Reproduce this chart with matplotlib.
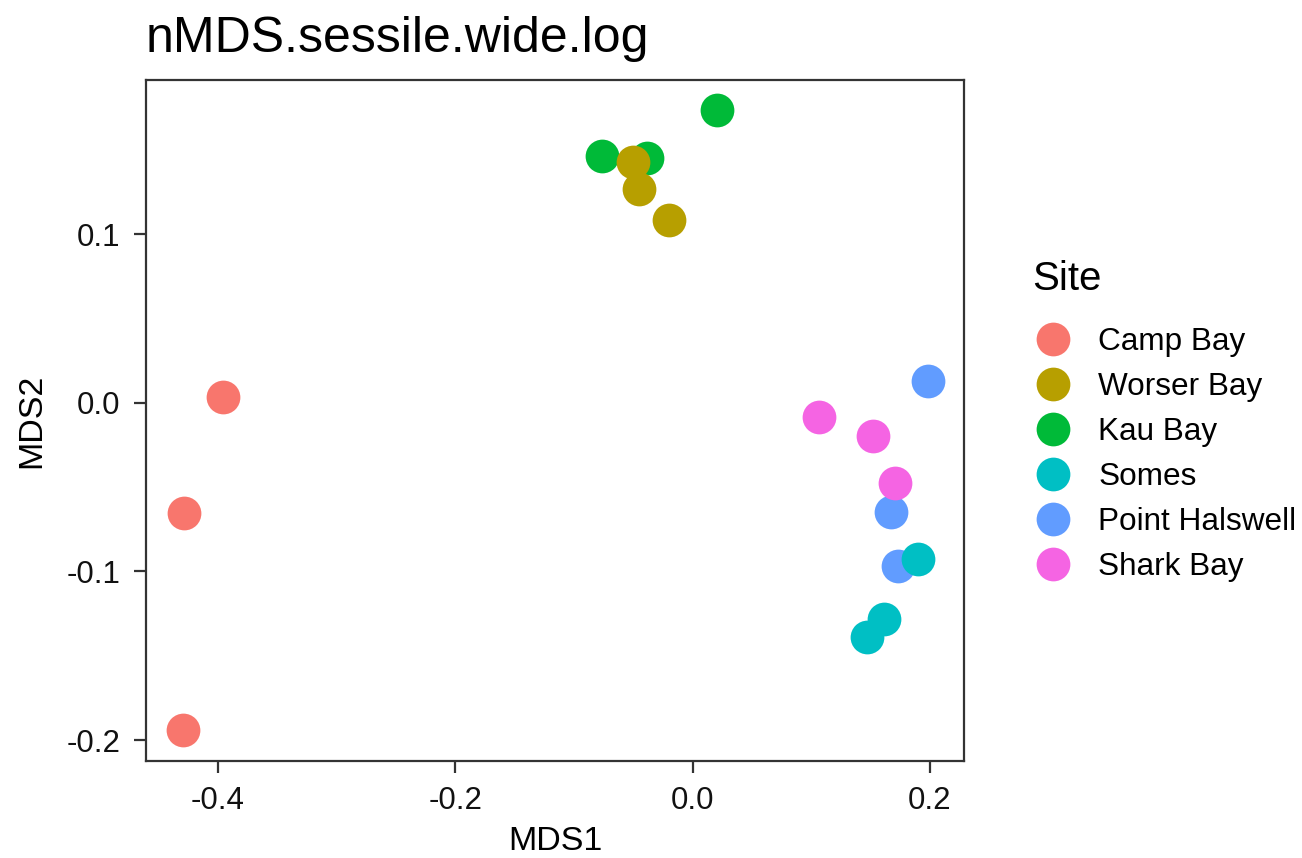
import matplotlib
matplotlib.use("Agg")
import matplotlib.pyplot as plt
from matplotlib.lines import Line2D

plt.rcParams['font.family'] = ['Liberation Sans', 'DejaVu Sans']

sites = ["Camp Bay", "Worser Bay", "Kau Bay", "Somes", "Point Halswell", "Shark Bay"]
colors = ["#F8766D", "#B79F00", "#00BA38", "#00BFC4", "#619CFF", "#F564E3"]

mds1 = {
    "Camp Bay": [-0.3956, -0.4284, -0.4298],
    "Worser Bay": [-0.0506, -0.0455, -0.0202],
    "Kau Bay": [-0.0767, -0.0388, 0.0202],
    "Somes": [0.1901, 0.1612, 0.1471],
    "Point Halswell": [0.1983, 0.1671, 0.1727],
    "Shark Bay": [0.1064, 0.1519, 0.1705],
}
mds2 = {
    "Camp Bay": [0.0032, -0.0656, -0.1940],
    "Worser Bay": [0.1425, 0.1267, 0.1083],
    "Kau Bay": [0.1461, 0.1452, 0.1735],
    "Somes": [-0.0927, -0.1280, -0.1391],
    "Point Halswell": [0.0130, -0.0648, -0.0966],
    "Shark Bay": [-0.0083, -0.0197, -0.0474],
}
draw_order = ["Camp Bay", "Kau Bay", "Worser Bay", "Point Halswell", "Somes", "Shark Bay"]

xticks = [-0.4, -0.2, 0.0, 0.2]
xtick_labels = ["-0.4", "-0.2", "0.0", "0.2"]
yticks = [-0.2, -0.1, 0.0, 0.1]
ytick_labels = ["-0.2", "-0.1", "0.0", "0.1"]

W, H = 1302, 858
fig = plt.figure(figsize=(W / 100, H / 100), dpi=100)
ax = fig.add_axes([146 / W, (H - 760.7) / H, (964 - 146) / W, (760.7 - 80) / H])

msize = 24.3 ** 2
for z, s in enumerate(draw_order):
    c = colors[sites.index(s)]
    ax.scatter(mds1[s], mds2[s], s=msize, color=c, linewidths=0, zorder=3 + z)

ax.set_xlim(-0.4607, 0.2286)
ax.set_ylim(-0.2122, 0.1913)
ax.set_xticks(xticks)
ax.set_xticklabels(xtick_labels)
ax.set_yticks(yticks)
ax.set_yticklabels(ytick_labels)

spine_col = "#333333"
for sp in ax.spines.values():
    sp.set_color(spine_col)
    sp.set_linewidth(1.6)
ax.tick_params(axis='both', length=8.3, width=1.6, color=spine_col,
               labelsize=22.5, labelcolor='#111111', pad=10)

ax.set_xlabel("MDS1", fontsize=24.5, color='black', labelpad=7)
ax.set_ylabel("MDS2", fontsize=24.5, color='black', labelpad=14)
ax.set_title("nMDS.sessile.wide.log", fontsize=36, loc='left', pad=20, color='black')

handles = [Line2D([0], [0], marker='o', linestyle='none', markersize=24.3,
                  markerfacecolor=c, markeredgewidth=0) for c in colors]
leg = fig.legend(handles, sites, loc='upper left',
                 bbox_to_anchor=(1035.7 / W, (H - 327) / H), frameon=False,
                 fontsize=22.7, handletextpad=0.88, borderpad=0,
                 labelspacing=0.476, handlelength=1.1, borderaxespad=0)
fig.text(1032 / W, (H - 290) / H, "Site", fontsize=29, va='baseline', ha='left', color='black')

fig.savefig("out.png", dpi=100, facecolor='white')
